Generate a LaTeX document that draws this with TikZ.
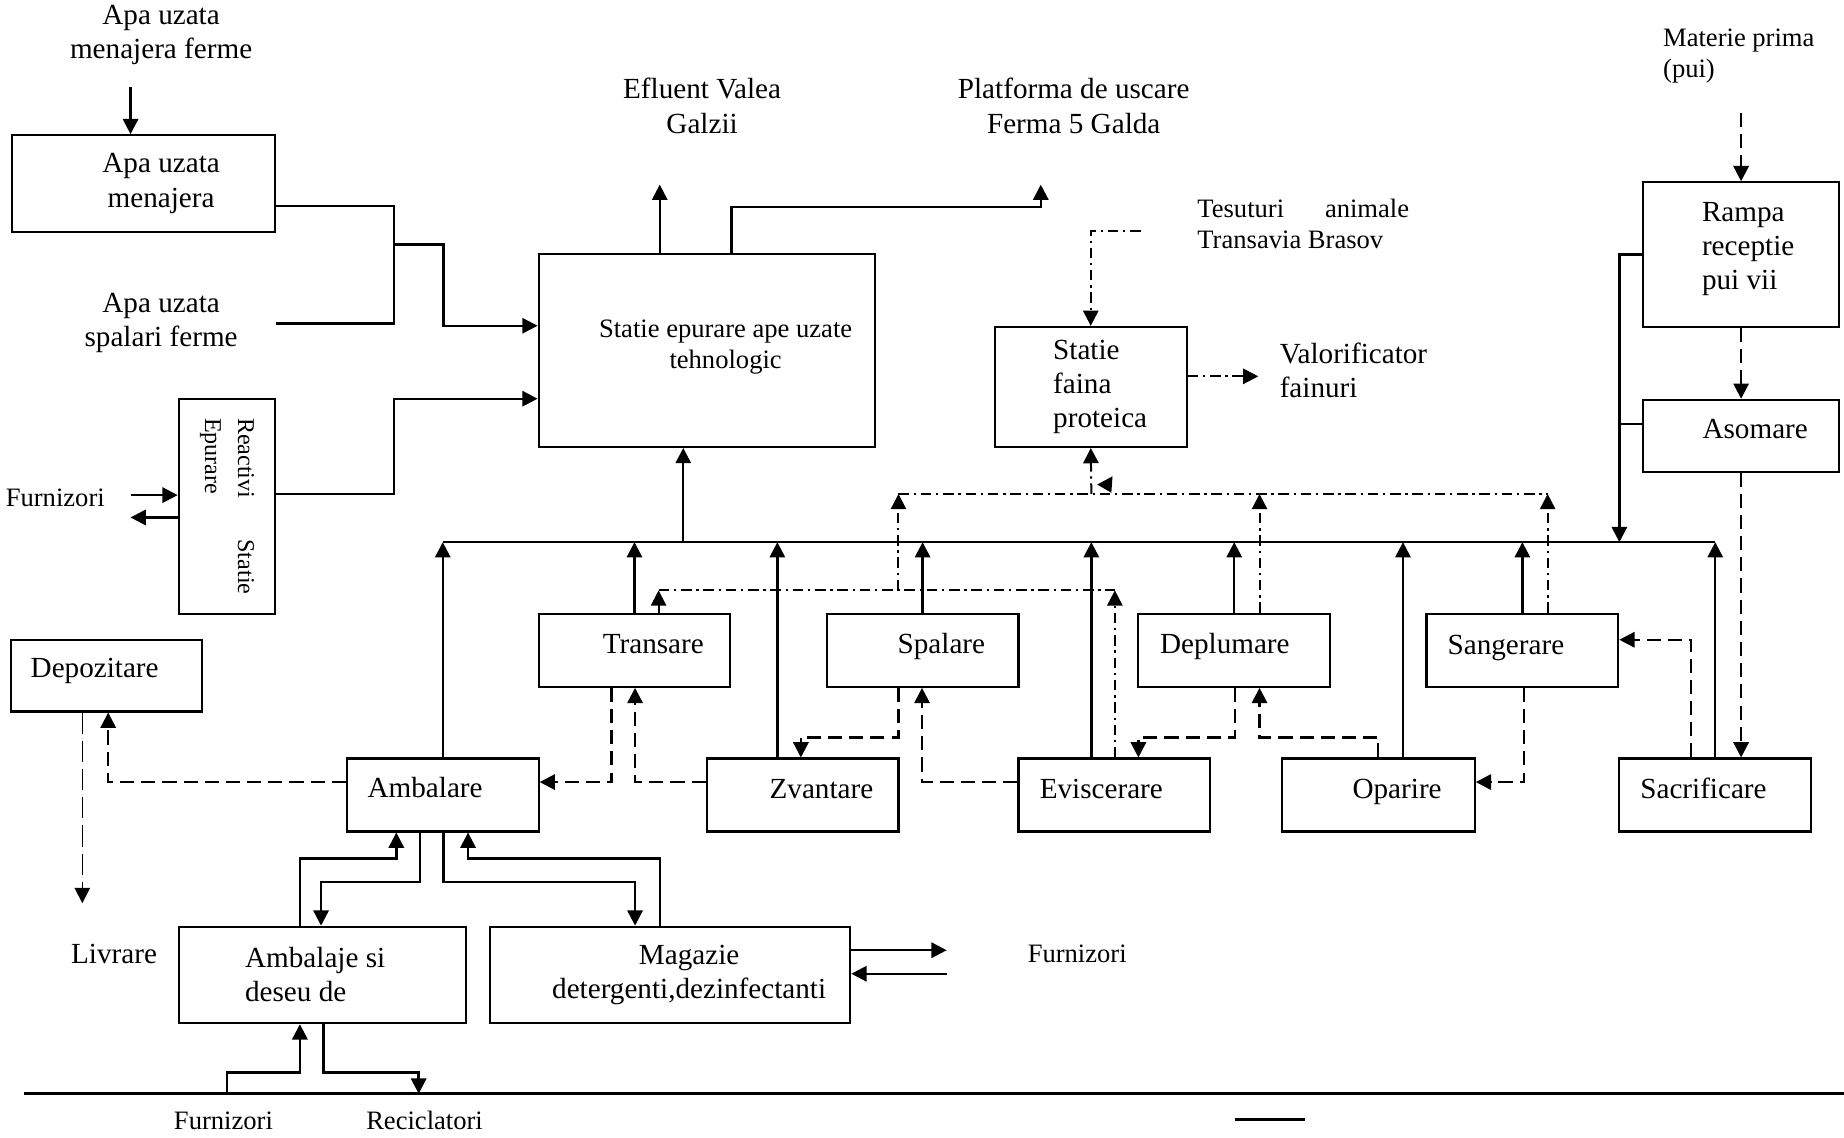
\documentclass[tikz,border=0pt]{standalone}
\usepackage{fontspec}
\setmainfont{Liberation Serif}
\usetikzlibrary{arrows.meta}
\newcommand{\txtbig}{\fontsize{24.8}{29}\selectfont}
\newcommand{\txtsmall}{\fontsize{22.6}{26.5}\selectfont}
\newcommand{\txtrot}{\fontsize{20.5}{28}\selectfont}

\begin{document}
\begin{tikzpicture}[x=1pt, y=-1pt,
    blk/.style={draw, line width=1.8pt, inner sep=0pt},
    every label/.style={inner sep=0pt, align=center, font=\txtbig},
    txt/.style={inner sep=0pt, align=center, font=\txtbig},
    stxt/.style={inner sep=0pt, align=center, font=\txtsmall},
    ln/.style={line width=2pt},
    arr/.style={line width=2pt, -{Triangle[length=13pt,width=13pt]}},
    darr/.style={arr, dash pattern=on 12pt off 6pt},
    ddarr/.style={arr, line width=1.7pt, dash pattern=on 9pt off 4pt on 2pt off 4pt},
    dd/.style={line width=1.7pt, dash pattern=on 9pt off 4pt on 2pt off 4pt}
  ]

  \useasboundingbox (0,0) rectangle (1568,967);

  \node[txt] (menajt) at (137,29.5) {Apa uzata\\menajera ferme};
  \node[blk, minimum width=224pt, minimum height=82pt, label={[xshift=15pt]center:Apa uzata\\menajera}] (menaj) at (122,156) {};
  \node[txt] (spalt) at (137,275) {Apa uzata\\spalari ferme};
  \node[blk, minimum width=82pt, minimum height=183pt] (react) at (193,430.5) {};
  \node[rotate=-90, text width=150pt, align=justify, inner sep=0pt, font=\txtrot] (reactt) at (react) {Reactivi Statie Epurare};
  \node[stxt] (furn1) at (47,423) {Furnizori};

  \node[blk, minimum width=286pt, minimum height=164pt, label={[xshift=16pt,yshift=3pt,font=\txtsmall]center:Statie epurare ape uzate\\tehnologic}] (epur) at (601,298) {};
  \node[txt] (eflt) at (597,90) {Efluent Valea\\Galzii};
  \node[txt] (platt) at (913,90) {Platforma de uscare\\Ferma 5 Galda};
  \node[stxt, anchor=west, text width=180pt, align=justify] (test) at (1018,190.5) {Tesuturi animale Transavia Brasov};
  \node[blk, minimum width=163pt, minimum height=102pt, label={[xshift=8pt,align=left]center:Statie\\faina\\proteica}] (faina) at (927.5,329) {};
  \node[txt, anchor=west, align=left] (valt) at (1088,315) {Valorificator\\fainuri};
  \node[stxt, anchor=west, align=left] (matt) at (1414,47.5) {Materie prima\\(pui)};
  \node[blk, minimum width=167pt, minimum height=123pt, label={[xshift=6pt,yshift=5pt,align=left]center:Rampa\\receptie\\pui vii}] (rampa) at (1480.5,216.5) {};
  \node[blk, minimum width=167pt, minimum height=61pt, label={[xshift=12pt,yshift=6pt]center:Asomare}] (asom) at (1480.5,370.5) {};

  \node[blk, minimum width=163pt, minimum height=62pt, label={[xshift=16pt,yshift=5pt]center:Transare}] (trans) at (539.5,553) {};
  \node[blk, minimum width=163pt, minimum height=62pt, label={[xshift=16pt,yshift=3pt]center:Spalare}] (spal) at (784.5,553) {};
  \node[blk, minimum width=163pt, minimum height=62pt, label={[xshift=-8pt,yshift=3pt]center:Deplumare}] (depl) at (1049.5,553) {};
  \node[blk, minimum width=163pt, minimum height=62pt, label={[xshift=-14pt,yshift=2pt]center:Sangerare}] (sang) at (1294.5,553) {};
  \node[blk, minimum width=163pt, minimum height=61pt, label={[xshift=-10pt,yshift=4pt]center:Depozitare}] (depo) at (90.5,574.5) {};

  \node[blk, minimum width=163pt, minimum height=62pt, label={[xshift=-15pt,yshift=6pt]center:Ambalare}] (ambal) at (376.5,676) {};
  \node[blk, minimum width=163pt, minimum height=62pt, label={[xshift=16pt,yshift=5pt]center:Zvantare}] (zvan) at (682.5,676) {};
  \node[blk, minimum width=163pt, minimum height=62pt, label={[xshift=-11pt,yshift=5pt]center:Eviscerare}] (evis) at (947.5,676) {};
  \node[blk, minimum width=164pt, minimum height=62pt, label={[xshift=16pt,yshift=3pt]center:Oparire}] (opar) at (1172,676) {};
  \node[blk, minimum width=163pt, minimum height=62pt, label={[xshift=-10pt,yshift=6pt]center:Sacrificare}] (sacr) at (1458.5,676) {};

  \node[blk, minimum width=244pt, minimum height=82pt, label={[xshift=-6pt,align=left]center:Ambalaje si\\deseu de}] (ambj) at (274,829) {};
  \node[blk, minimum width=306pt, minimum height=82pt, label={[xshift=16pt]center:Magazie\\detergenti,dezinfectanti}] (mag) at (570,829) {};
  \node[txt] (livt) at (97,811) {Livrare};
  \node[stxt] (furn2) at (916,811) {Furnizori};
  \node[stxt] (furn3) at (190,953) {Furnizori};
  \node[stxt] (recit) at (361,953) {Reciclatori};

  \coordinate (mtop) at (111,74);
  \coordinate (j1) at (335,208);
  \coordinate (furnin) at (111,421);
  \coordinate (furnout) at (111,440);
  \coordinate (eflp) at (561,157);
  \coordinate (platp) at (885,157);
  \coordinate (tesp) at (970,196);
  \coordinate (valp) at (1070,320);
  \coordinate (matp) at (1480.5,96);
  \coordinate (busL) at (377,461);
  \coordinate (busR) at (1458,461);
  \coordinate (ddlow) at (560,502);
  \coordinate (ddup) at (764,420);
  \coordinate (livp) at (70,768);
  \coordinate (magout) at (805,808);
  \coordinate (magin) at (805,828);
  \coordinate (gl) at (20,930);
  \coordinate (gr) at (1568,930);
  \coordinate (s1) at (1050,952);
  \coordinate (s2) at (1110,952);

  \draw[arr] (mtop) -- (mtop |- menaj.north);
  \draw[ln] (menaj.east |- 0,175) -| (j1);
  \draw[ln] (spalt.east -| menaj.east) -| (j1);
  \draw[arr] (j1) -- (377,208) |- (epur.west |- 0,277);
  \draw[arr] (react.east |- 0,420) -- (335,420) |- (epur.west |- 0,339);
  \draw[arr] (furnin) -- (react.west |- furnin);
  \draw[arr] (react.west |- furnout) -- (furnout);

  \draw[arr] (561,0 |- epur.north) -- (eflp);
  \draw[arr] (622,0 |- epur.north) |- (885,176) -- (platp);
  \draw[ddarr] (tesp) -| (faina.north);
  \draw[ddarr] (faina.east |- valp) -- (valp);
  \draw[darr] (matp) -- (rampa.north);
  \draw[darr] (rampa.south) -- (asom.north);
  \draw[darr] (asom.south) -- (asom.south |- sacr.north);

  \draw[ln] (busL) -- (busR);
  \draw[arr] (581,0 |- busL) -- (581,0 |- epur.south);
  \draw[arr] (rampa.west) -| (1377,0 |- busL);
  \draw[ln] ([yshift=10pt]asom.west) -- ([yshift=10pt]asom.west -| 1377,0);
  \draw[arr] (ambal.north) -- (ambal.north |- busL);
  \draw[arr] (trans.north) -- (trans.north |- busL);
  \draw[arr] (661,0 |- zvan.north) -- (661,0 |- busL);
  \draw[arr] (spal.north) -- (spal.north |- busL);
  \draw[arr] (928,0 |- evis.north) -- (928,0 |- busL);
  \draw[arr] (depl.north) -- (depl.north |- busL);
  \draw[arr] (1193,0 |- opar.north) -- (1193,0 |- busL);
  \draw[arr] (sang.north) -- (sang.north |- busL);
  \draw[arr] (sacr.north) -- (sacr.north |- busL);

  \draw[ddarr] (560,0 |- trans.north) -- (ddlow);
  \draw[dd] (ddlow) -- (948,502);
  \draw[ddarr] (948,0 |- evis.north) -- (948,502);
  \draw[ddarr] (ddup |- ddlow) -- (ddup);
  \draw[dd] (ddup) -- (1316,420);
  \draw[ddarr] (1071,0 |- depl.north) -- (1071,420);
  \draw[ddarr] (1316,0 |- sang.north) -- (1316,420);
  \draw[ddarr] (928,420) -- (faina.south);
  \fill (933,412) -- (946,405) -- (945,419) -- cycle;

  \draw[darr] (1438,0 |- sacr.north) |- (sang.east |- 0,544);
  \draw[darr] (1296,0 |- sang.south) |- (opar.east |- 0,665);
  \draw[darr] (1172,0 |- opar.north) |- (1071,627) -- (1071,0 |- depl.south);
  \draw[darr] (1050,0 |- depl.south) |- (968,627) -- (968,0 |- evis.north);
  \draw[darr] (evis.west |- 0,665) -| (784,0 |- spal.south);
  \draw[darr] (764,0 |- spal.south) |- (681,627) -- (681,0 |- zvan.north);
  \draw[darr] (zvan.west |- 0,665) -| (540,0 |- trans.south);
  \draw[darr] (520,0 |- trans.south) |- (ambal.east |- 0,665);
  \draw[darr] (ambal.west |- 0,665) -| (92,0 |- depo.south);
  \draw[arr, line width=1.3pt, dash pattern=on 18pt off 6pt] (70,0 |- depo.south) -- (livp);

  \draw[arr] (255,0 |- ambj.north) |- (337,730) -- (337,0 |- ambal.south);
  \draw[arr] (357,0 |- ambal.south) |- (273,750) -- (273,0 |- ambj.north);
  \draw[arr] (377,0 |- ambal.south) |- (540,750) -- (540,0 |- mag.north);
  \draw[arr] (561,0 |- mag.north) |- (398,730) -- (398,0 |- ambal.south);
  \draw[arr] (mag.east |- magout) -- (magout);
  \draw[arr] (magin) -- (mag.east |- magin);

  \draw[line width=2.8pt] (gl) -- (gr);
  \draw[arr] (193,0 |- gl) |- (255,912) -- (255,0 |- ambj.south);
  \draw[arr] (275,0 |- ambj.south) |- (356,912) -- (356,0 |- gl);
  \draw[ln] (s1) -- (s2);

\end{tikzpicture}
\end{document}
